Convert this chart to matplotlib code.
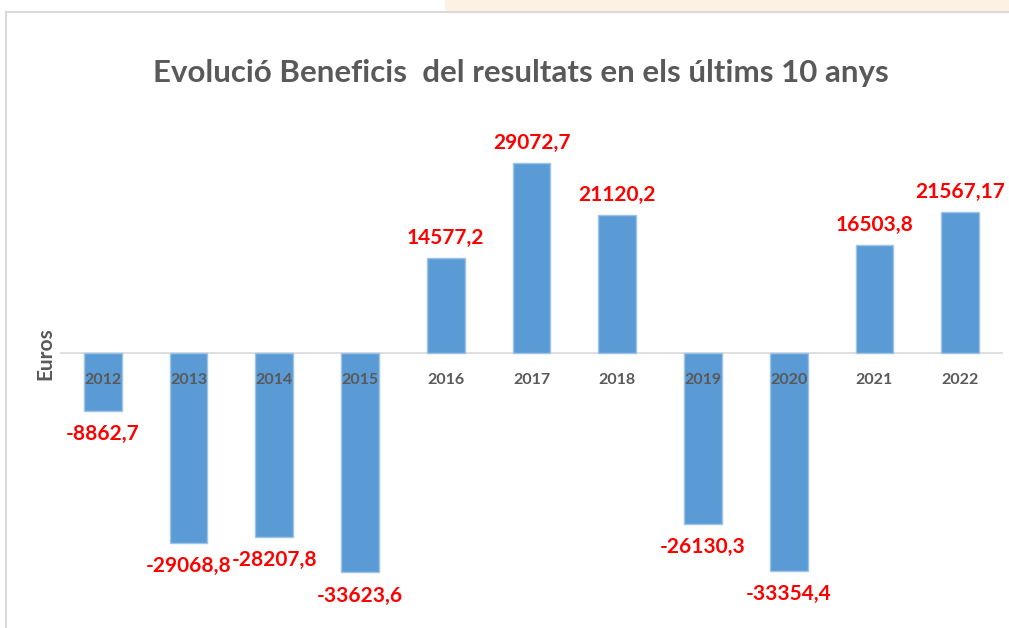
import matplotlib
matplotlib.use("Agg")
import matplotlib.pyplot as plt
from matplotlib.patches import Rectangle

years = ["2012", "2013", "2014", "2015", "2016", "2017", "2018", "2019", "2020", "2021", "2022"]
values = [-8862.7, -29068.8, -28207.8, -33623.6, 14577.2, 29072.7, 21120.2, -26130.3, -33354.4, 16503.8, 21567.17]
labels = ["-8862,7", "-29068,8", "-28207,8", "-33623,6", "14577,2", "29072,7", "21120,2",
          "-26130,3", "-33354,4", "16503,8", "21567,17"]
title = "Evolució Beneficis  del resultats en els últims 10 anys"
ylabel = "Euros"

W, H = 1009, 628
plt.rcParams['font.family'] = ['Lato', 'DejaVu Sans']
fig = plt.figure(figsize=(W / 100, H / 100), dpi=100)

# screenshot frame and background tint
fig.patches.append(Rectangle((445 / W, 1 - 11 / H), 1 - 445 / W, 11 / H, transform=fig.transFigure,
                             facecolor="#FDF1E4", edgecolor="none", zorder=0))
fig.add_artist(plt.Line2D([6 / W, 1], [1 - 12 / H, 1 - 12 / H], transform=fig.transFigure,
                          color="#D9D9D9", lw=1.5))
fig.add_artist(plt.Line2D([6 / W, 6 / W], [0, 1 - 12 / H], transform=fig.transFigure,
                          color="#D9D9D9", lw=1.5))

ax_left, ax_right = 60, 1003
ax_top, ax_bottom = 130, 600
ax = fig.add_axes([ax_left / W, 1 - ax_bottom / H, (ax_right - ax_left) / W, (ax_bottom - ax_top) / H])
ax.set_facecolor("none")
units_per_px = 153.2
ax.set_ylim(-(ax_bottom - 353) * units_per_px, (353 - ax_top) * units_per_px)
x = list(range(len(years)))
ax.set_xlim(-0.5, len(years) - 0.5)

ax.bar(x, values, width=0.44, color="#5B9BD5", edgecolor="#9DC3E6", linewidth=1.0, zorder=2)
ax.axhline(0, color="#D9D9D9", lw=1.2, zorder=1)

for xi, v, lab, yr in zip(x, values, labels, years):
    off = 20 if v > 0 else -23
    ax.annotate(lab, (xi, v), xytext=(0, off), textcoords="offset pixels",
                ha="center", va="center", color="#FF0000", fontsize=15, fontweight="bold", zorder=4)
    ax.annotate(yr, (xi, 0), xytext=(0, -27), textcoords="offset pixels",
                ha="center", va="center", color="#595959", fontsize=11.5, fontweight="bold", zorder=4)

for s in ax.spines.values():
    s.set_visible(False)
ax.set_xticks([])
ax.set_yticks([])

fig.text(45 / W, 1 - 354 / H, ylabel, rotation=90, ha="center", va="center",
         color="#595959", fontsize=15, fontweight="bold")
fig.text(521 / W, 1 - 73 / H, title, ha="center", va="center", color="#595959",
         fontsize=22.5, fontweight="bold")

fig.savefig("out.png", dpi=100)
